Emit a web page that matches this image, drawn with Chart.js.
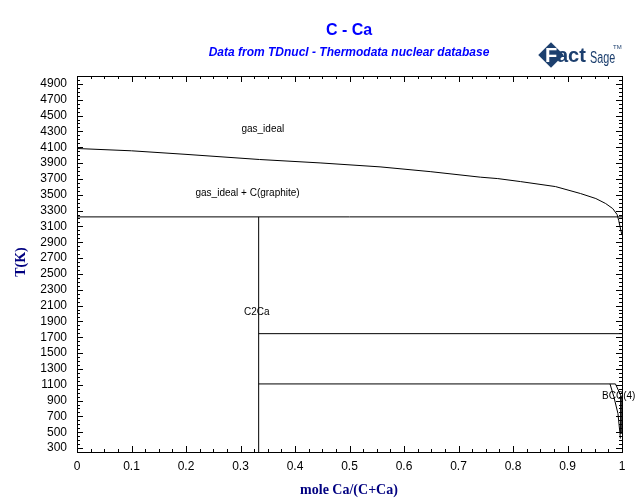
<!DOCTYPE html>
<html>
<head>
<meta charset="utf-8">
<script src="https://cdn.jsdelivr.net/npm/chart.js@4.4.1/dist/chart.umd.min.js"></script>
<style>
  html, body { margin: 0; padding: 0; background: #fff; }
  canvas { display: block; }
</style>
</head>
<body>
<canvas id="myChart" width="640" height="504"></canvas>
<script>
// tick labels
const xTicks = [0, 0.1, 0.2, 0.3, 0.4, 0.5, 0.6, 0.7, 0.8, 0.9, 1];
const yTicks = [300, 500, 700, 900, 1100, 1300, 1500, 1700, 1900, 2100, 2300, 2500,
  2700, 2900, 3100, 3300, 3500, 3700, 3900, 4100, 4300, 4500, 4700, 4900];

// gas boundary curve
const gasX = [0, 0.1, 0.2, 0.335, 0.446, 0.556, 0.648, 0.74, 0.772, 0.814,
  0.878, 0.924, 0.952, 0.97, 0.983, 0.991, 0.994, 0.998, 1.0];
const gasT = [4084, 4055, 4010, 3945, 3902, 3852, 3792, 3722, 3704, 3666,
  3603, 3515, 3452, 3389, 3325, 3250, 3174, 3047, 2990];

// invariant lines
const xC2Ca = 1 / 3;
const tGraphite = 3220;
const tUpper = 1745;
const tLower = 1110;

// BCC boundary near pure Ca
const bccX = [0.978, 0.985, 0.9926, 0.9963, 0.997];
const bccT = [1110, 950, 735, 482, 420];
const bcc2X = [0.988, 0.998, 0.998];
const bcc2T = [1110, 960, 480];

// phase labels
const phaseNames = ['gas_ideal', 'gas_ideal + C(graphite)', 'C2Ca', 'BCC(4)'];
const phaseX = [0.341, 0.313, 0.33, 0.994];
const phaseT = [4324, 3515, 2010, 960];

const pts = (xs, ts) => xs.map((x, i) => ({ x: x, y: ts[i] }));
const line = (data) => ({
  data: data, showLine: true, borderColor: '#000', borderWidth: 1,
  pointRadius: 0, tension: 0, fill: false
});

const decor = {
  id: 'decor',
  afterDraw(chart) {
    const ctx = chart.ctx;
    const xs = chart.scales.x, ys = chart.scales.y;
    const a = chart.chartArea;
    ctx.save();
    ctx.strokeStyle = '#000';
    ctx.lineWidth = 1;
    ctx.strokeRect(Math.round(a.left) + 0.5, Math.round(a.top) + 0.5,
      Math.round(a.right - a.left), Math.round(a.bottom - a.top));

    // inward ticks
    ctx.beginPath();
    for (let v = 0; v <= 1.0001; v += 0.025) {
      const major = Math.abs(v * 10 - Math.round(v * 10)) < 1e-6;
      const len = major ? 6 : 3;
      const px = Math.round(xs.getPixelForValue(v)) + 0.5;
      ctx.moveTo(px, a.bottom); ctx.lineTo(px, a.bottom - len);
      ctx.moveTo(px, a.top); ctx.lineTo(px, a.top + len);
    }
    for (let v = 300; v <= 5000; v += 50) {
      const major = yTicks.includes(v);
      const len = major ? 6 : 3;
      const py = Math.round(ys.getPixelForValue(v)) + 0.5;
      ctx.moveTo(a.left, py); ctx.lineTo(a.left + len, py);
      ctx.moveTo(a.right, py); ctx.lineTo(a.right - len, py);
    }
    ctx.stroke();

    // phase labels
    ctx.fillStyle = '#000';
    ctx.font = '10px "Liberation Sans", Arial, sans-serif';
    ctx.textAlign = 'center';
    ctx.textBaseline = 'middle';
    phaseNames.forEach((n, i) => {
      ctx.fillText(n, xs.getPixelForValue(phaseX[i]), ys.getPixelForValue(phaseT[i]));
    });

    // titles
    ctx.fillStyle = '#0000ff';
    ctx.font = 'bold 16px "Liberation Sans", Arial, sans-serif';
    ctx.fillText('C - Ca', 349, 31);
    ctx.font = 'italic bold 12px "Liberation Sans", Arial, sans-serif';
    ctx.fillText('Data from TDnucl - Thermodata nuclear database', 349, 53);

    // axis titles
    ctx.fillStyle = '#000080';
    ctx.font = 'bold 14px "Liberation Serif", "Times New Roman", serif';
    ctx.fillText('mole Ca/(C+Ca)', 349, 490);
    ctx.save();
    ctx.translate(21, 262);
    ctx.rotate(-Math.PI / 2);
    ctx.fillText('T(K)', 0, 0);
    ctx.restore();

    // FactSage logo
    ctx.fillStyle = '#1c3f6e';
    ctx.save();
    ctx.translate(551, 55);
    ctx.rotate(Math.PI / 4);
    ctx.fillRect(-9, -9, 18, 18);
    ctx.restore();
    ctx.textAlign = 'left';
    ctx.font = 'bold 20px "Liberation Sans", Arial, sans-serif';
    ctx.fillStyle = '#fff';
    ctx.fillText('F', 545, 56);
    ctx.fillStyle = '#1c3f6e';
    ctx.fillText('act', 557, 56);
    ctx.save();
    ctx.translate(590, 58);
    ctx.scale(0.72, 1.15);
    ctx.font = '15px "Liberation Sans", Arial, sans-serif';
    ctx.fillText('Sage', 0, 0);
    ctx.restore();
    ctx.font = '6px "Liberation Sans", Arial, sans-serif';
    ctx.fillText('TM', 613, 47);
    ctx.restore();
  }
};

new Chart(document.getElementById('myChart').getContext('2d'), {
  type: 'scatter',
  data: {
    datasets: [
      line(pts(gasX, gasT)),
      line(pts([0, 1], [tGraphite, tGraphite])),
      line(pts([xC2Ca, xC2Ca], [250, tGraphite])),
      line(pts([xC2Ca, 1], [tUpper, tUpper])),
      line(pts([xC2Ca, 0.988], [tLower, tLower])),
      line(pts(bccX, bccT)),
      line(pts(bcc2X, bcc2T))
    ]
  },
  options: {
    responsive: false,
    animation: false,
    layout: { padding: { top: 76, right: 18, left: 0, bottom: 0 } },
    plugins: { legend: { display: false }, tooltip: { enabled: false } },
    scales: {
      x: {
        type: 'linear', min: 0, max: 1,
        afterBuildTicks: (s) => { s.ticks = xTicks.map(v => ({ value: v })); },
        afterFit: (s) => { s.height = 52; },
        grid: { display: false, drawTicks: false },
        border: { display: false },
        ticks: {
          color: '#000', padding: 7, maxRotation: 0, autoSkip: false,
          font: { family: '"Liberation Sans", Arial, sans-serif', size: 12 },
          callback: (v) => String(Number(v.toFixed(1)))
        }
      },
      y: {
        type: 'linear', min: 250, max: 5000,
        afterBuildTicks: (s) => { s.ticks = yTicks.map(v => ({ value: v })); },
        afterFit: (s) => { s.width = 77; },
        grid: { display: false, drawTicks: false },
        border: { display: false },
        ticks: {
          color: '#000', padding: 10, autoSkip: false,
          font: { family: '"Liberation Sans", Arial, sans-serif', size: 12 },
          callback: (v) => String(v)
        }
      }
    }
  },
  plugins: [decor]
});
</script>
</body>
</html>
